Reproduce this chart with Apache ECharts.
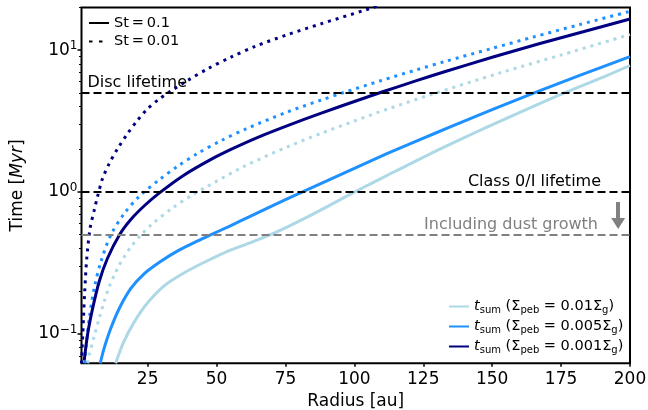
<!DOCTYPE html>
<html>
<head>
<meta charset="utf-8">
<script src="https://cdn.jsdelivr.net/npm/echarts@6/dist/echarts.min.js"></script>
<style>
  html, body { margin: 0; padding: 0; background: #fff; }
  #chart { width: 648px; height: 410px; }
</style>
</head>
<body>
<div id="chart"></div>
<script>
const FONT = "DejaVu Sans";

// radius [au] and time [Myr]
// St = 0.1 (solid)
const rLightSolid = [13.4, 16.0, 20.0, 24.9, 31.2, 38.3, 46.3, 54.4, 62.4, 69.5, 76.5, 83.2, 90.5, 99.2, 108, 117, 127.8, 138.5, 148.5, 162.3, 176, 192, 200];
const tLightSolid = [0.062, 0.085, 0.12, 0.165, 0.22, 0.27, 0.325, 0.385, 0.44, 0.5, 0.578, 0.671, 0.796, 0.98, 1.2, 1.47, 1.87, 2.35, 2.89, 3.81, 4.98, 6.68, 7.8];
const rDodgerSolid = [7.8, 9.2, 11.6, 14.7, 18.9, 23.8, 29.8, 35.9, 41.9, 48, 55, 62, 70, 80, 90, 100, 112, 124, 135, 150, 165, 182, 200];
const tDodgerSolid = [0.062, 0.079, 0.109, 0.151, 0.209, 0.266, 0.325, 0.385, 0.44, 0.5, 0.578, 0.671, 0.796, 0.98, 1.2, 1.47, 1.87, 2.35, 2.89, 3.81, 4.98, 6.68, 9.0];
const rNavySolid = [2.0, 3.2, 5.0, 7.4, 10.4, 14.8, 18.9, 23.8, 29.4, 38, 48, 56, 65, 76, 88, 100, 110, 122, 133, 150, 167, 183, 200];
const tNavySolid = [0.065, 0.099, 0.15, 0.233, 0.34, 0.5, 0.64, 0.8, 0.99, 1.31, 1.7, 2.03, 2.43, 2.95, 3.6, 4.35, 5.07, 6.05, 7.08, 8.91, 11.1, 13.5, 16.6];

// St = 0.01 (dotted)
const rLightDot = [3.3, 3.8, 5.6, 7.4, 9.2, 11.0, 12.9, 14.7, 16.5, 18.9, 22.5, 26.8, 34, 41.3, 46.8, 60.1, 75.9, 88.1, 100.2, 112.3, 127.4, 153, 175, 200];
const tLightDot = [0.062, 0.071, 0.096, 0.128, 0.168, 0.214, 0.259, 0.305, 0.349, 0.41, 0.496, 0.599, 0.771, 0.956, 1.1, 1.52, 2.09, 2.6, 3.18, 3.86, 4.84, 6.93, 9.25, 12.9];
const rDodgerDot = [2.2, 2.5, 3.8, 5.6, 8.0, 11.6, 16.5, 21.9, 29.2, 35.9, 43.1, 51.6, 60.7, 75.9, 88.1, 95.9, 109.9, 122, 132.9, 150, 165, 182, 200];
const tDodgerDot = [0.062, 0.075, 0.128, 0.209, 0.321, 0.496, 0.705, 0.93, 1.22, 1.52, 1.87, 2.3, 2.79, 3.68, 4.46, 5.01, 6.12, 7.22, 8.33, 10.3, 12.4, 15.2, 18.8];
const rNavyDot = [1.0, 1.7, 2.2, 2.9, 4.1, 5.6, 6.8, 8.6, 11, 14.1, 17.7, 21.3, 25, 29, 33.4, 39.5, 46.8, 55.2, 64.3, 75.9, 88.1, 103.2, 115];
const tNavyDot = [0.062, 0.128, 0.204, 0.339, 0.552, 0.743, 0.927, 1.24, 1.58, 2.02, 2.58, 3.2, 3.87, 4.5, 5.15, 6.12, 7.4, 8.93, 10.7, 12.9, 15.4, 19.0, 22.5];

const sigmaLabels = ["0.01", "0.005", "0.001"];
const stokesLabels = ["St\u2009=\u20090.1", "St\u2009=\u20090.01"];
const xTicks = [25, 50, 75, 100, 125, 150, 175, 200];
const yTicks = [0.1, 1, 10];
const yMinorTicks = [0.07, 0.08, 0.09, 0.2, 0.3, 0.4, 0.5, 0.6, 0.7, 0.8, 0.9, 2, 3, 4, 5, 6, 7, 8, 9, 20];
const refValues = [5, 1, 0.5];
const refLabels = ["Disc lifetime", "Class 0/I lifetime", "Including dust growth"];
const arrowR = 195.7;
const arrowT = [0.85, 0.6];

const colors = ["#ADD8E6", "#1E90FF", "#000080"];
const dotted = [3, 5];

const pairs = (r, t) => r.map((v, i) => [v, t[i]]);

const solidData = [pairs(rLightSolid, tLightSolid), pairs(rDodgerSolid, tDodgerSolid), pairs(rNavySolid, tNavySolid)];
const dotData = [pairs(rLightDot, tLightDot), pairs(rDodgerDot, tDodgerDot), pairs(rNavyDot, tNavyDot)];
const legendNames = sigmaLabels.map((s) => "tsum " + s);

const curve = (name, data, color, type) => ({
  name: name,
  type: "line",
  data: data,
  smooth: 0.3,
  symbol: "none",
  lineStyle: { color: color, width: 3, type: type, cap: "butt" },
  itemStyle: { color: color },
  z: 3,
});

const series = [];
sigmaLabels.forEach((s, i) => series.push(curve("dot " + s, dotData[i], colors[i], dotted)));
sigmaLabels.forEach((s, i) => series.push(curve(legendNames[i], solidData[i], colors[i], "solid")));
series.push(curve(stokesLabels[0], [], "#000", "solid"));
series.push(curve(stokesLabels[1], [], "#000", dotted));

// horizontal reference lines + arrow
const dash = [8, 4];
series.push({
  name: "refs",
  type: "line",
  data: [],
  z: 2,
  markLine: {
    silent: true,
    animation: false,
    symbol: ["none", "none"],
    data: [
      {
        yAxis: refValues[0],
        lineStyle: { color: "#000", width: 2, type: dash },
        label: { show: true, formatter: refLabels[0], position: "insideStartTop", distance: [6, 2], color: "#000", fontSize: 16, fontFamily: FONT },
      },
      {
        yAxis: refValues[1],
        lineStyle: { color: "#000", width: 2, type: dash },
        label: { show: true, formatter: refLabels[1], position: "insideEndTop", distance: [29, 2], color: "#000", fontSize: 16, fontFamily: FONT },
      },
      {
        yAxis: refValues[2],
        lineStyle: { color: "#808080", width: 2, type: dash },
        label: { show: true, formatter: refLabels[2], position: "insideEndTop", distance: [32, 2], color: "#808080", fontSize: 16, fontFamily: FONT },
      },
      [
        { coord: [arrowR, arrowT[0]], symbol: "none", lineStyle: { color: "#808080", width: 4, type: "solid" }, label: { show: false } },
        { coord: [arrowR, arrowT[1]], symbol: "triangle", symbolSize: [14, 11] },
      ],
    ],
  },
});

const sub = { fontSize: 10, lineHeight: 10, verticalAlign: "bottom", fontFamily: FONT, color: "#000" };
const legendText = {};
legendNames.forEach((n, i) => {
  legendText[n] = "{i|t}{sub|sum} (Σ{sub|peb} = " + sigmaLabels[i] + "Σ{sub|g})";
});

const chart = echarts.init(document.getElementById("chart"), null, { renderer: "canvas" });
chart.setOption({
  animation: false,
  backgroundColor: "#fff",
  textStyle: { fontFamily: FONT },
  grid: {
    left: 81.5, right: 18, top: 7.5, bottom: 46.7,
    show: true, borderColor: "#000", borderWidth: 2,
    containLabel: false, outerBoundsMode: "none",
  },
  legend: [
    {
      data: [
        { name: stokesLabels[0] },
        { name: stokesLabels[1], lineStyle: { type: [3.5, 6.5] } },
      ],
      orient: "vertical",
      left: 88, top: 15, padding: 0,
      itemWidth: 20, itemHeight: 16, itemGap: 2.5,
      selectedMode: false,
      itemStyle: { opacity: 0, borderWidth: 0 },
      textStyle: { fontSize: 14.5, lineHeight: 16, color: "#000", fontFamily: FONT },
    },
    {
      data: legendNames,
      orient: "vertical",
      left: 448, top: 298, padding: 0,
      itemWidth: 20, itemHeight: 18, itemGap: 3,
      selectedMode: false,
      itemStyle: { opacity: 0, borderWidth: 0 },
      formatter: (name) => legendText[name],
      textStyle: {
        fontSize: 14.5, lineHeight: 17, color: "#000", fontFamily: FONT,
        rich: {
          i: { fontStyle: "italic", fontSize: 14.5, lineHeight: 17, fontFamily: FONT, color: "#000" },
          sub: sub,
        },
      },
    },
  ],
  xAxis: {
    type: "value",
    min: 1, max: 200,
    name: "Radius [au]",
    nameLocation: "middle",
    nameGap: 25,
    nameTextStyle: { fontSize: 17, color: "#000", fontFamily: FONT },
    axisLine: { show: false },
    splitLine: { show: false },
    axisTick: { show: true, length: 3.5, customValues: xTicks, lineStyle: { color: "#000", width: 1.5 } },
    axisLabel: { customValues: xTicks, fontSize: 17, margin: 8, color: "#000", fontFamily: FONT },
  },
  yAxis: [
    {
      type: "log", logBase: 10,
      min: 0.062, max: 20,
      name: "Time [{i|Myr}]",
      nameLocation: "middle",
      nameGap: 55,
      nameTextStyle: {
        fontSize: 17, color: "#000", fontFamily: FONT,
        rich: { i: { fontStyle: "italic", fontSize: 17, fontFamily: FONT, color: "#000" } },
      },
      axisLine: { show: false },
      splitLine: { show: false },
      axisTick: { show: true, length: 4, customValues: yTicks, lineStyle: { color: "#000", width: 1.5 } },
      axisLabel: {
        customValues: yTicks,
        margin: 4,
        fontSize: 17, lineHeight: 20, color: "#000", fontFamily: FONT,
        formatter: (v) => {
          const e = Math.round(Math.log10(v));
          return "10{sup|" + (e < 0 ? "\u2212" + -e : e) + "}";
        },
        rich: { sup: { fontSize: 12, lineHeight: 12, verticalAlign: "top", fontFamily: FONT, color: "#000" } },
      },
    },
    {
      // minor ticks only
      type: "log", logBase: 10,
      min: 0.062, max: 20,
      position: "left",
      axisLine: { show: false },
      splitLine: { show: false },
      axisLabel: { show: false },
      axisTick: { show: true, length: 2.5, customValues: yMinorTicks, lineStyle: { color: "#000", width: 1 } },
    },
  ],
  series: series,
});
</script>
</body>
</html>
